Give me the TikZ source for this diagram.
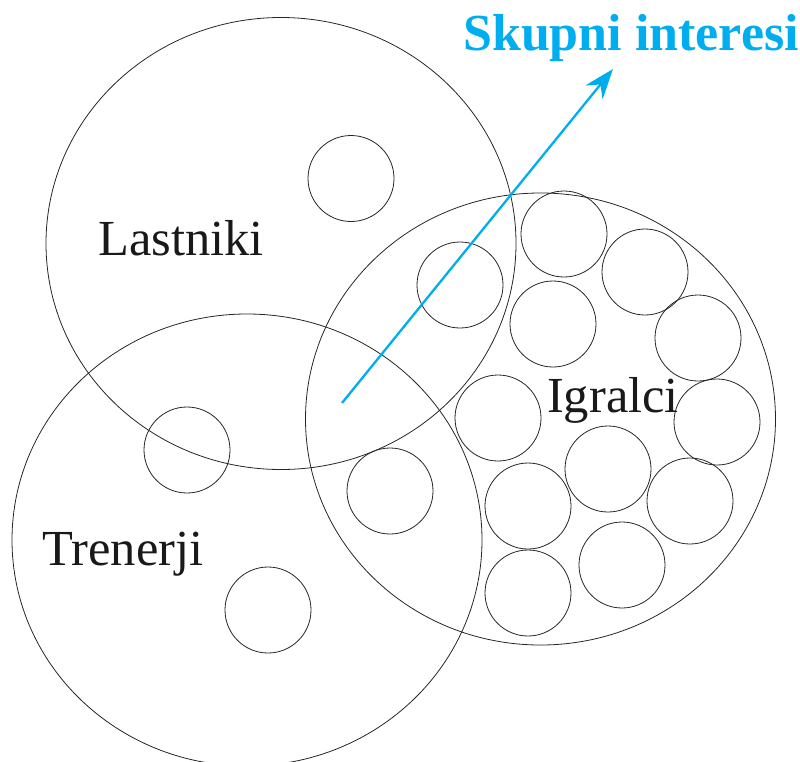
\documentclass[tikz,border=0pt]{standalone}
\usepackage{fontspec}
\setmainfont{Liberation Serif}
\usetikzlibrary{arrows.meta}
\definecolor{skcyan}{RGB}{0,174,239}
\tikzset{
  bigset/.style={draw=black!85, line width=0.8pt, ellipse, minimum width=470pt, minimum height=452pt, inner sep=0pt},
  member/.style={draw=black!85, line width=0.8pt, circle, minimum size=86pt, inner sep=0pt},
  setlabel/.style={font=\fontsize{50.5}{60}\selectfont, text=black!90, anchor=base, inner sep=0pt},
}
\usetikzlibrary{shapes.geometric}
\begin{document}
\begin{tikzpicture}[x=1pt,y=-1pt]
\useasboundingbox (0,0) rectangle (800,761);
\clip (0,0) rectangle (800,761);
\node[bigset] (lastniki) at (281,243.5) {};
\node[bigset] (trenerji) at (247,540) {};
\node[bigset] (igralci) at (540.5,419) {};
% members
\node[member] (m1) at (351,178.5) {};
\node[member] (m2) at (460,285) {};
\node[member] (m3) at (187,450) {};
\node[member] (m4) at (390,491) {};
\node[member] (m5) at (268,610) {};
\node[member] (p1) at (564,234) {};
\node[member] (p2) at (645,272) {};
\node[member] (p3) at (553,324) {};
\node[member] (p4) at (698,338) {};
\node[member] (p5) at (498,418) {};
\node[member] (p6) at (717,422) {};
\node[member] (p7) at (608,469) {};
\node[member] (p8) at (528,506) {};
\node[member] (p9) at (690,501) {};
\node[member] (p10) at (528,593) {};
\node[member] (p11) at (622,565) {};
% labels
\node[setlabel] (tl) at (181,255) {Lastniki};
\node[setlabel] (tt) at (123,565) {Trenerji};
\node[setlabel] (ti) at (613,412) {Igralci};
\node[font=\bfseries\fontsize{52}{62}\selectfont, text=skcyan, anchor=base west, inner sep=0pt] (sk) at (463,50) {Skupni interesi};
% arrow
\coordinate (a0) at (342,403);
\coordinate (a1) at (613,69);
\draw[skcyan, line width=2.3pt, -{Stealth[length=30pt,width=22pt,inset=10pt]}] (a0) -- (a1);
\end{tikzpicture}
\end{document}
